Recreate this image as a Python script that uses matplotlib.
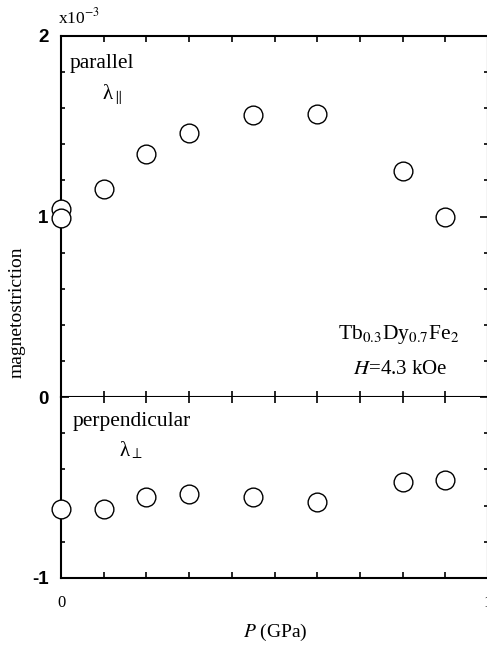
import matplotlib

matplotlib.use("Agg")
import matplotlib.pyplot as plt
import numpy as np

# pressure (GPa) and magnetostriction (x1e-3)
P_PAR = [0.0, 0.0, 0.1, 0.2, 0.3, 0.45, 0.6, 0.8, 0.9]
LAM_PAR = [1.04, 0.99, 1.15, 1.345, 1.46, 1.56, 1.57, 1.25, 1.0]
P_PERP = [0.0, 0.1, 0.2, 0.3, 0.45, 0.6, 0.8, 0.9]
LAM_PERP = [-0.62, -0.62, -0.555, -0.535, -0.55, -0.58, -0.47, -0.46]

SERIF = "Liberation Serif"
SANS = "Liberation Sans"

plt.rcParams.update({"font.family": SERIF, "mathtext.fontset": "stix",
                     "axes.unicode_minus": False, "axes.linewidth": 1.5})

W, H = 487, 647
fig = plt.figure(figsize=(W / 100, H / 100), dpi=100)
x0, x1 = 61, 488
ax_top = fig.add_axes([x0 / W, (H - 397) / H, (x1 - x0) / W, 361 / H])
ax_bot = fig.add_axes([x0 / W, (H - 578) / H, (x1 - x0) / W, 181 / H])

mk = dict(ls="none", marker="o", ms=13.5, mfc="white", mec="black", mew=1.0,
          clip_on=False, zorder=5)
ax_top.plot(P_PAR, LAM_PAR, **mk)
ax_bot.plot(P_PERP, LAM_PERP, **mk)

for ax, (lo, hi) in [(ax_top, (0, 2)), (ax_bot, (-1, 0))]:
    ax.set_xlim(0, 1)
    ax.set_ylim(lo, hi)
    ax.set_xticks([0, 1])
    ax.set_xticks(np.arange(0.1, 0.95, 0.1), minor=True)
    ax.set_yticks(np.arange(lo, hi + 0.5, 1))
    ax.set_yticks(np.arange(lo, hi + 0.01, 0.2), minor=True)
    ax.tick_params(axis="both", which="both", direction="in",
                   top=True, bottom=True, left=True, right=True, width=1.2)
    ax.tick_params(axis="x", which="minor", length=4)
    ax.tick_params(axis="x", which="major", length=0)
    ax.tick_params(axis="y", which="minor", length=3)
    ax.tick_params(axis="y", which="major", length=6, pad=9)

ax_top.tick_params(axis="x", labelbottom=False)
ax_top.set_yticklabels(["0", "1", "2"])
ax_bot.set_yticklabels(["-1", ""])
ax_bot.spines["top"].set_visible(False)
ax_bot.set_xticklabels(["0", "1"], fontsize=12)
ax_bot.tick_params(axis="x", which="major", pad=12)
for ax in (ax_top, ax_bot):
    for lab in ax.get_yticklabels():
        lab.set_fontfamily(SANS)
        lab.set_fontweight("bold")
        lab.set_fontsize(13.5)

fig.text(58 / W, (H - 27) / H, r"x10$^{-3}$", fontsize=12.5, ha="left", va="bottom")
fig.text(17 / W, (H - 312) / H, "magnetostriction", rotation=90, fontsize=14,
         ha="center", va="center")
fig.text(275 / W, (H - 632) / H, r"$P$ (GPa)", fontsize=14, ha="center", va="center")

ax_top.text(0.02, 0.925, "parallel", transform=ax_top.transAxes, fontsize=15.5,
            ha="left", va="center")
ax_top.text(0.119, 0.837, r"λ$_{\parallel}$", transform=ax_top.transAxes,
            fontsize=15, ha="center", va="center")
ax_top.text(0.934, 0.172, r"Tb$_{0.3}$Dy$_{0.7}$Fe$_2$", transform=ax_top.transAxes,
            fontsize=15.5, ha="right", va="center")
ax_top.text(0.904, 0.075, r"$H$=4.3 kOe", transform=ax_top.transAxes,
            fontsize=15, ha="right", va="center")
ax_bot.text(0.028, 0.862, "perpendicular", transform=ax_bot.transAxes, fontsize=15.5,
            ha="left", va="center")
ax_bot.text(0.164, 0.707, r"λ$_{\perp}$", transform=ax_bot.transAxes,
            fontsize=15, ha="center", va="center")

fig.savefig("out.png", dpi=100, facecolor="white")
